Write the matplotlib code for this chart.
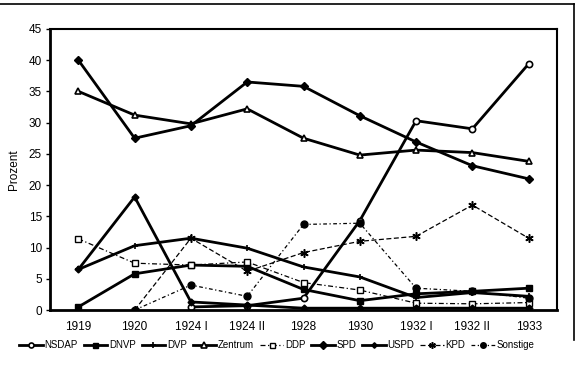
import numpy as np
import matplotlib
matplotlib.use('Agg')
from matplotlib import pyplot as plt
from matplotlib.lines import Line2D

plt.rcParams['font.family'] = ['Liberation Sans', 'DejaVu Sans']

wahlen = ['1919', '1920', '1924 I', '1924 II', '1928', '1930', '1932 I', '1932 II', '1933']

nan = np.nan
nsdap = [nan, nan, 0.5, 0.7, 1.9, 14.3, 30.3, 29.0, 39.4]
dnvp = [0.5, 5.8, 7.2, 7.0, 3.3, 1.5, 2.6, 3.0, 3.5]
dvp = [6.5, 10.3, 11.5, 9.9, 6.9, 5.3, 2.0, 2.8, 2.2]
zentrum = [35.0, 31.2, 29.8, 32.2, 27.5, 24.8, 25.6, 25.2, 23.8]
ddp = [11.4, 7.5, 7.2, 7.7, 4.4, 3.2, 1.1, 1.0, 1.2]
spd = [40.0, 27.5, 29.5, 36.5, 35.8, 31.1, 26.9, 23.1, 21.0]
uspd = [6.5, 18.1, 1.3, 0.8, 0.3, 0.3, 0.3, 0.3, 0.3]
kpd = [nan, 0.0, 11.5, 6.2, 9.2, 11.0, 11.8, 16.8, 11.5]
sonstige = [nan, 0.0, 4.0, 2.2, 13.7, 13.9, 3.5, 3.0, 1.9]

fig = plt.figure(figsize=(5.77, 3.70), dpi=100)
ax = fig.add_axes([0.087, 0.162, 0.878, 0.76])

x = np.arange(len(wahlen))
k = 'black'

ax.plot(x, nsdap, color=k, lw=2, marker='o', ms=4.5, mfc='white', mec=k, mew=1.2, label='NSDAP')
ax.plot(x, dnvp, color=k, lw=2, marker='s', ms=4.5, mfc=k, mec=k, label='DNVP')
ax.plot(x, dvp, color=k, lw=2, marker='+', ms=5, mew=1.2, label='DVP')
ax.plot(x, zentrum, color=k, lw=2, marker='^', ms=5, mfc='white', mec=k, mew=1.2, label='Zentrum')
ax.plot(x, ddp, color=k, lw=0.9, ls=(0, (4, 2, 1, 2)), marker='s', ms=4.5, mfc='white', mec=k, mew=1.0, label='DDP')
ax.plot(x, spd, color=k, lw=2, marker='D', ms=4.5, mfc=k, mec=k, label='SPD')
ax.plot(x, uspd, color=k, lw=2, marker='D', ms=3.5, mfc=k, mec=k, label='USPD')
ax.plot(x, kpd, color=k, lw=0.9, ls=(0, (4, 2)), marker=(6, 2, 0), ms=6, mew=1.1, label='KPD')
ax.plot(x, sonstige, color=k, lw=0.9, ls=(0, (3, 2, 1, 2)), marker='o', ms=5, mfc=k, mec=k, label='Sonstige')

ax.set_xlim(-0.5, len(wahlen) - 0.5)
ax.set_ylim(0, 45)
ax.set_yticks(np.arange(0, 46, 5))
ax.set_xticks(x)
ax.set_xticklabels(wahlen)
ax.tick_params(axis='x', length=0, pad=8, labelsize=8.5)
ax.tick_params(axis='y', length=3, width=1, pad=3, labelsize=8.5)

for side in ['left', 'bottom']:
    ax.spines[side].set_linewidth(2)
for side in ['top', 'right']:
    ax.spines[side].set_linewidth(1.5)

ax.set_ylabel('Prozent', fontsize=8.5, labelpad=6)

fig.legend(loc='lower center', bbox_to_anchor=(0.48, 0.03), ncol=9, frameon=False,
           fontsize=7, handlelength=2.4, handletextpad=0.2, columnspacing=0.6,
           markerscale=0.8)

# scan frame around the page
fig.add_artist(Line2D([0.0, 0.995], [0.99, 0.99], color=k, lw=1.2, transform=fig.transFigure))
fig.add_artist(Line2D([0.995, 0.995], [0.99, 0.08], color=k, lw=1.2, transform=fig.transFigure))

fig.savefig('out.png', dpi=100)
